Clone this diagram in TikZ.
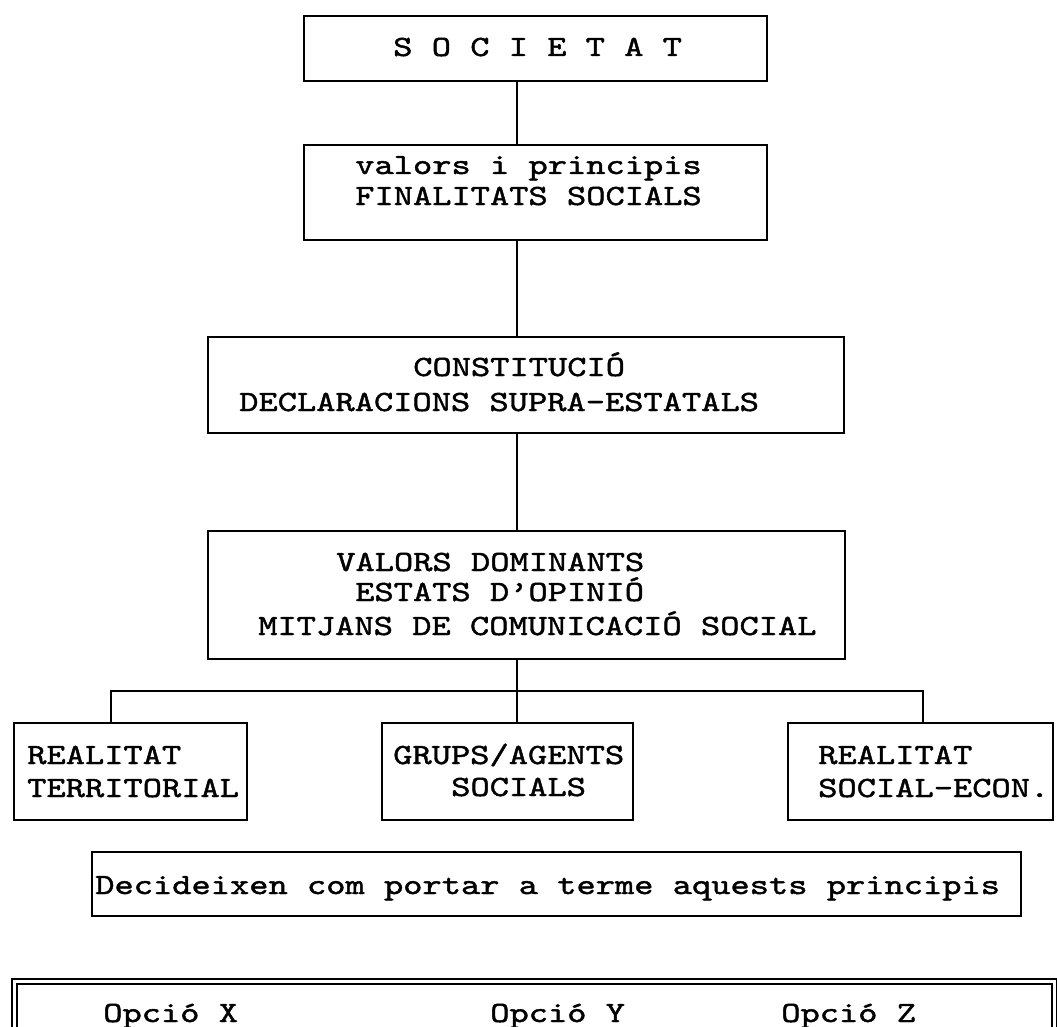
\documentclass[tikz,border=0pt]{standalone}
\usepackage{fontspec}
% Courier-like typewriter face: widened, slightly heavier Latin Modern Mono
\newfontfamily\typewriter{lmmono10-regular.otf}[FakeStretch=1.25,FakeBold=1.5]
\begin{document}
\begin{tikzpicture}[x=0.75pt,y=-0.75pt,
  box/.style={draw, line width=1.5pt, inner sep=0pt, fill=none},
  link/.style={line width=1pt},
  txt/.style={anchor=base west, inner sep=0pt,
    font=\typewriter\fontsize{22}{26}\selectfont}]

\useasboundingbox (0,0) rectangle (1057,1027);
\fill[white] (0,0) rectangle (1057,1027);
\clip (0,0) rectangle (1057,1027);

% boxes of the chain
\node[box, minimum width=463*0.75pt, minimum height=65*0.75pt]  (soc)  at (535.5,48.5) {};
\node[box, minimum width=463*0.75pt, minimum height=95*0.75pt]  (val)  at (535.5,192.5) {};
\node[box, minimum width=636*0.75pt, minimum height=96*0.75pt]  (con)  at (526,385) {};
\node[box, minimum width=637*0.75pt, minimum height=128*0.75pt] (dom)  at (526.5,595) {};
\node[box, minimum width=233*0.75pt, minimum height=97*0.75pt]  (ter)  at (130.5,771.5) {};
\node[box, minimum width=251*0.75pt, minimum height=97*0.75pt]  (grp)  at (507.5,771.5) {};
\node[box, minimum width=265*0.75pt, minimum height=97*0.75pt]  (eco)  at (920.5,771.5) {};
\node[box, minimum width=929*0.75pt, minimum height=64*0.75pt]  (dec)  at (556.5,884) {};
\node[draw, double, line width=1pt, double distance=2.8pt, inner sep=0pt,
      minimum width=1040*0.75pt, minimum height=118.5*0.75pt] (opc) at (534.5,1040.75) {};

% texts
\node[txt] (soc-t)  at (393,56)  {S O C I E T A T};
\node[txt] (val-t1) at (355,174) {valors i principis};
\node[txt] (val-t2) at (355,205) {FINALITATS SOCIALS};
\node[txt] (con-t1) at (413,376) {CONSTITUCIÓ};
\node[txt] (con-t2) at (239,411) {DECLARACIONS SUPRA-ESTATALS};
\node[txt] (dom-t1) at (336,571) {VALORS DOMINANTS};
\node[txt] (dom-t2) at (355,601) {ESTATS D’OPINIÓ};
\node[txt] (dom-t3) at (258,635) {MITJANS DE COMUNICACIÓ SOCIAL};
\node[txt] (ter-t1) at (27,764)  {REALITAT};
\node[txt] (ter-t2) at (27,797)  {TERRITORIAL};
\node[txt] (grp-t1) at (393,764) {GRUPS/AGENTS};
\node[txt] (grp-t2) at (451,796) {SOCIALS};
\node[txt] (eco-t1) at (818,764) {REALITAT};
\node[txt] (eco-t2) at (818,797) {SOCIAL-ECON.};
\node[txt] (dec-t)  at (95,894)  {Decideixen com portar a terme aquests principis};
\node[txt] (opx)    at (103,1022) {Opció X};
\node[txt] (opy)    at (490,1022) {Opció Y};
\node[txt] (opz)    at (781,1022) {Opció Z};

% connectors
\coordinate (spine) at (517,0);
\coordinate (busL)  at (111,691);
\coordinate (busR)  at (923,691);
\draw[link] (soc.south -| spine) -- (val.north -| spine);
\draw[link] (val.south -| spine) -- (con.north -| spine);
\draw[link] (con.south -| spine) -- (dom.north -| spine);
\draw[link] (dom.south -| spine) -- (grp.north -| spine);
\draw[link] (ter.north -| busL) -- (busL) -- (busR) -- (eco.north -| busR);
\end{tikzpicture}
\end{document}
